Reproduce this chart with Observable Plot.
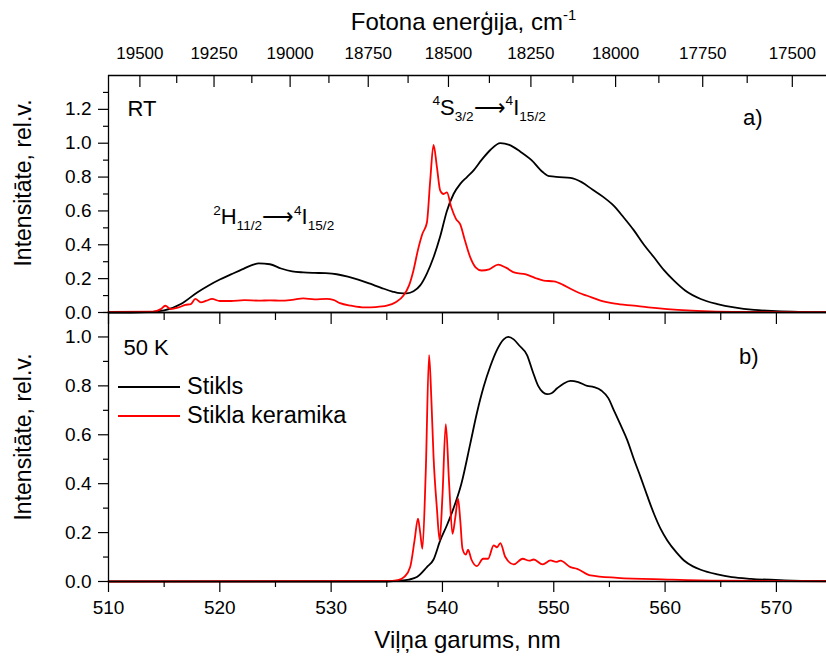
<!DOCTYPE html>
<html><head><meta charset="utf-8">
<script src="https://cdn.jsdelivr.net/npm/d3@7"></script>
<script src="https://cdn.jsdelivr.net/npm/@observablehq/plot@0.6"></script>
<style>
body{margin:0;background:#fff;}
#chart{position:relative;width:826px;height:657px;font-family:"Liberation Sans",Arial,sans-serif;overflow:hidden;background:#fff}
#top,#bottom{position:absolute;left:0}
#top{top:0}
#bottom{top:311px}
#legend{position:absolute;left:118px;top:372px;font-size:23.5px;color:#000}
.item{display:flex;align-items:center;height:29px;white-space:nowrap}
.sw{display:inline-block;width:62px;height:0;border-top:2px solid;margin-right:7px}
</style></head><body>
<div id="chart"><div id="top"></div><div id="bottom"></div><div id="legend"></div></div>
<script>
// ---- data: wavelength (nm) ----
const rtStiklsX = [510,512,513.5,515,516.5,518,519,520,521,522,523,523.5,524.5,525.5,526.5,527.5,528.5,529.5,530.5,531.5,532.5,533.5,534.5,535.5,536.2,536.8,537.4,538,538.6,539.2,539.8,540.4,541,541.6,542.2,542.8,543.5,544.3,545.2,546,547,548,549,549.6,550.5,551.5,552.5,553.5,554.5,555.4,556.3,557.2,558.1,559,559.9,560.8,561.8,563.2,564.7,566.2,568,570,572,574.5];
const rtStiklsY = [0,0,0.002,0.012,0.05,0.12,0.16,0.195,0.225,0.255,0.283,0.29,0.285,0.26,0.243,0.237,0.234,0.232,0.226,0.212,0.193,0.17,0.146,0.124,0.114,0.113,0.125,0.16,0.23,0.326,0.45,0.6,0.70,0.76,0.80,0.84,0.90,0.96,1.0,0.99,0.95,0.90,0.83,0.805,0.80,0.795,0.77,0.725,0.68,0.63,0.56,0.485,0.40,0.326,0.25,0.188,0.13,0.08,0.05,0.03,0.015,0.008,0.004,0.002];

const rtKeramX = [510,514,514.7,515.1,515.6,516.3,516.9,517.4,517.8,518.3,518.8,519.3,520,521,522.2,523.5,524.5,525.5,526.5,527.5,528.5,529.6,530.2,530.8,531.8,533,534,535,535.8,536.5,537,537.4,537.8,538.2,538.6,538.9,539.2,539.5,539.8,540.1,540.4,540.8,541.2,541.6,542,542.5,543,543.5,544.2,545,545.7,546.5,547.5,548.3,549.1,550,550.8,551.5,552.3,553,554.2,555.5,557.2,558.5,560.2,562,564,567,574.5];
const rtKeramY = [0.003,0.005,0.02,0.04,0.02,0.03,0.045,0.05,0.08,0.06,0.07,0.08,0.068,0.068,0.073,0.07,0.072,0.07,0.075,0.083,0.078,0.08,0.075,0.055,0.04,0.03,0.032,0.04,0.06,0.1,0.16,0.25,0.37,0.465,0.53,0.78,0.99,0.86,0.72,0.70,0.71,0.62,0.555,0.52,0.43,0.326,0.265,0.248,0.255,0.283,0.265,0.235,0.225,0.205,0.188,0.184,0.165,0.14,0.115,0.099,0.07,0.052,0.04,0.03,0.02,0.012,0.007,0.004,0.002];

const k50StiklsX = [510,535,536,537,537.7,538.6,539.2,539.8,540.4,541,541.7,542.5,543.1,543.7,544.3,544.9,545.5,545.9,546.4,546.9,547.6,548.1,548.6,549,549.4,549.8,550.3,550.9,551.5,552.2,553,553.6,554.3,554.9,555.4,556,556.6,557.2,557.8,558.4,559,559.6,560.2,561,561.7,562.5,563.2,564.7,566,567.7,570.7,574.5];
const k50StiklsY = [0,0,0.003,0.008,0.018,0.059,0.09,0.168,0.23,0.30,0.40,0.564,0.69,0.796,0.88,0.947,0.99,1.0,0.99,0.965,0.926,0.86,0.80,0.775,0.766,0.77,0.79,0.81,0.82,0.815,0.80,0.795,0.78,0.75,0.70,0.64,0.578,0.50,0.427,0.35,0.277,0.215,0.168,0.12,0.086,0.062,0.048,0.029,0.018,0.011,0.005,0.002];

const k50KeramX = [510,535,536,536.6,537.1,537.5,537.8,538.0,538.2,538.5,538.8,539.0,539.2,539.5,539.75,540.0,540.3,540.6,540.9,541.15,541.4,541.6,541.8,542.1,542.3,542.6,543.1,543.65,544.1,544.6,544.9,545.2,545.65,546.4,547.2,547.8,548.2,549.0,549.7,550.2,550.6,551.5,552.1,553.3,555.7,560.2,565,574.5];
const k50KeramY = [0,0.002,0.006,0.02,0.059,0.17,0.257,0.2,0.134,0.45,0.926,0.75,0.51,0.3,0.168,0.35,0.643,0.4,0.195,0.26,0.339,0.25,0.134,0.11,0.13,0.09,0.063,0.093,0.093,0.148,0.14,0.157,0.10,0.07,0.093,0.085,0.09,0.07,0.086,0.08,0.085,0.059,0.052,0.025,0.015,0.008,0.003,0.001];

// ---- ticks / labels ----
const xDomain = [510, 574.5];
const xMajor = [510,520,530,540,550,560,570];
const xMinor = [515,525,535,545,555,565];
const energyMajor = [19500,19250,19000,18750,18500,18250,18000,17750,17500];
const energyMinor = [19375,19125,18875,18625,18375,18125,17875,17625];
const yMajorTop = [0,0.2,0.4,0.6,0.8,1.0,1.2];
const yMinorTop = [0.1,0.3,0.5,0.7,0.9,1.1,1.3];
const yMajorBot = [0,0.2,0.4,0.6,0.8,1.0];
const yMinorBot = [0.1,0.3,0.5,0.7,0.9,1.1];
const seriesNames = ["Stikls","Stikla keramika"];
const seriesColors = ["#000000","#ff0000"];
const yTitle = "Intensitāte, rel.v.";
const xTitle = "Viļņa garums, nm";
const topTitle = "Fotona enerģija, cm^{-1}";
const trH = "^{2}H_{11/2}⟶^{4}I_{15/2}";
const trS = "^{4}S_{3/2}⟶^{4}I_{15/2}";

const FONT = '"Liberation Sans", Arial, sans-serif';
const toNm = e => 1e7 / e;
const pts = (xs, ys) => xs.map((x, i) => ({x, y: ys[i]}));
const fmt = d3.format(".1f");
const AX = {stroke: "black", strokeWidth: 1.3};
const T = (extra) => ({lineAnchor: "middle", ...extra});

const topPlot = Plot.plot({
  width: 826, height: 313,
  marginLeft: 108, marginRight: 0, marginTop: 75, marginBottom: 1,
  x: {domain: xDomain, axis: null},
  y: {domain: [0, 1.4], axis: null},
  style: {fontFamily: FONT, fontSize: "19px", color: "black", background: "transparent", overflow: "visible"},
  marks: [
    Plot.line(pts(rtStiklsX, rtStiklsY), {x: "x", y: "y", stroke: seriesColors[0], strokeWidth: 1.8, curve: "monotone-x"}),
    Plot.line(pts(rtKeramX, rtKeramY), {x: "x", y: "y", stroke: seriesColors[1], strokeWidth: 1.8, curve: "monotone-x"}),
    Plot.ruleY([1.4], AX), Plot.ruleX([510], AX), Plot.ruleY([0], AX),
    Plot.axisY(yMajorTop, {tickSize: 10, fill: "none", label: null, strokeWidth: 1.2}),
    Plot.axisY(yMinorTop, {tickSize: 5, fill: "none", label: null, strokeWidth: 1.2}),
    Plot.text(yMajorTop, T({y: d => d, frameAnchor: "left", dx: -17, textAnchor: "end", text: fmt, fontSize: 19})),
    Plot.axisX(energyMajor.map(toNm), {anchor: "top", tickSize: -11, fill: "none", label: null, strokeWidth: 1.2}),
    Plot.axisX(energyMinor.map(toNm), {anchor: "top", tickSize: -7, fill: "none", label: null, strokeWidth: 1.2}),
    Plot.text(energyMajor, T({x: toNm, frameAnchor: "top", dy: -22, textAnchor: "middle", text: d => String(d), fontSize: 17})),
    Plot.text([topTitle], T({frameAnchor: "top", dy: -53, dx: -4, textAnchor: "middle", fontSize: 24})),
    Plot.text([yTitle], T({frameAnchor: "left", rotate: -90, dx: -85, dy: -11, textAnchor: "middle", fontSize: 23})),
    Plot.text(["RT"], T({frameAnchor: "top-left", dx: 19, dy: 33, textAnchor: "start", fontSize: 22})),
    Plot.text(["a)"], T({frameAnchor: "top-right", dx: -64, dy: 42, textAnchor: "end", fontSize: 22})),
    Plot.text([{x: 519.4, y: 0.565, t: trH}], T({x: "x", y: "y", text: "t", textAnchor: "start", fontSize: 22})),
    Plot.text([{x: 539.1, y: 1.21, t: trS}], T({x: "x", y: "y", text: "t", textAnchor: "start", fontSize: 22}))
  ]
});

const botPlot = Plot.plot({
  width: 826, height: 346,
  marginLeft: 108, marginRight: 0, marginTop: 1, marginBottom: 76,
  x: {domain: xDomain, axis: null},
  y: {domain: [0, 1.1], axis: null},
  style: {fontFamily: FONT, fontSize: "19px", color: "black", background: "transparent", overflow: "visible"},
  marks: [
    Plot.line(pts(k50StiklsX, k50StiklsY), {x: "x", y: "y", stroke: seriesColors[0], strokeWidth: 1.8, curve: "monotone-x"}),
    Plot.line(pts(k50KeramX, k50KeramY), {x: "x", y: "y", stroke: seriesColors[1], strokeWidth: 1.8, curve: "monotone-x"}),
    Plot.ruleY([1.1], AX), Plot.ruleX([510], AX), Plot.ruleY([0], AX),
    Plot.axisY(yMajorBot, {tickSize: 10, fill: "none", label: null, strokeWidth: 1.2}),
    Plot.axisY(yMinorBot, {tickSize: 5, fill: "none", label: null, strokeWidth: 1.2}),
    Plot.text(yMajorBot, T({y: d => d, frameAnchor: "left", dx: -17, textAnchor: "end", text: fmt, fontSize: 19})),
    Plot.axisX(xMajor, {anchor: "bottom", tickSize: 11, fill: "none", label: null, strokeWidth: 1.2}),
    Plot.axisX(xMinor, {anchor: "bottom", tickSize: 6, fill: "none", label: null, strokeWidth: 1.2}),
    Plot.axisX(xMajor, {anchor: "top", tickSize: -11, fill: "none", label: null, strokeWidth: 1.2}),
    Plot.axisX(xMinor, {anchor: "top", tickSize: -7, fill: "none", label: null, strokeWidth: 1.2}),
    Plot.text(xMajor, T({x: d => d, frameAnchor: "bottom", dy: 26, textAnchor: "middle", text: d => String(d), fontSize: 19})),
    Plot.text([xTitle], T({frameAnchor: "bottom", dy: 59, textAnchor: "middle", fontSize: 24})),
    Plot.text([yTitle], T({frameAnchor: "left", rotate: -90, dx: -85, dy: -10, textAnchor: "middle", fontSize: 23})),
    Plot.text(["50 K"], T({frameAnchor: "top-left", dx: 15, dy: 35, textAnchor: "start", fontSize: 22})),
    Plot.text(["b)"], T({frameAnchor: "top-right", dx: -68, dy: 44, textAnchor: "end", fontSize: 22}))
  ]
});

document.getElementById("top").appendChild(topPlot);
document.getElementById("bottom").appendChild(botPlot);

// legend
const leg = document.getElementById("legend");
seriesNames.forEach((n, i) => {
  const row = document.createElement("div");
  row.className = "item";
  const sw = document.createElement("span");
  sw.className = "sw";
  sw.style.borderTopColor = seriesColors[i];
  row.appendChild(sw);
  row.appendChild(document.createTextNode(n));
  leg.appendChild(row);
});

// rich text: ^{sup} and _{sub}
function richify(root) {
  root.querySelectorAll("text").forEach(t => {
    const s = t.textContent;
    if (!/[\^_]\{/.test(s)) return;
    const base = parseFloat(getComputedStyle(t).fontSize) || 22;
    const re = /([\^_])\{([^}]*)\}|([^\^_]+)/g;
    const parts = [];
    let m;
    while ((m = re.exec(s))) parts.push(m[1] ? {mode: m[1], txt: m[2]} : {mode: "", txt: m[3]});
    t.textContent = "";
    let cur = 0;
    for (const p of parts) {
      const ts = document.createElementNS("http://www.w3.org/2000/svg", "tspan");
      const target = p.mode === "^" ? -0.42 * base : p.mode === "_" ? 0.3 * base : 0;
      ts.setAttribute("dy", (target - cur).toFixed(2));
      cur = target;
      if (p.mode) ts.setAttribute("font-size", (0.62 * base).toFixed(1));
      ts.textContent = p.txt;
      t.appendChild(ts);
    }
  });
}
richify(topPlot);
richify(botPlot);
</script>
</body></html>
